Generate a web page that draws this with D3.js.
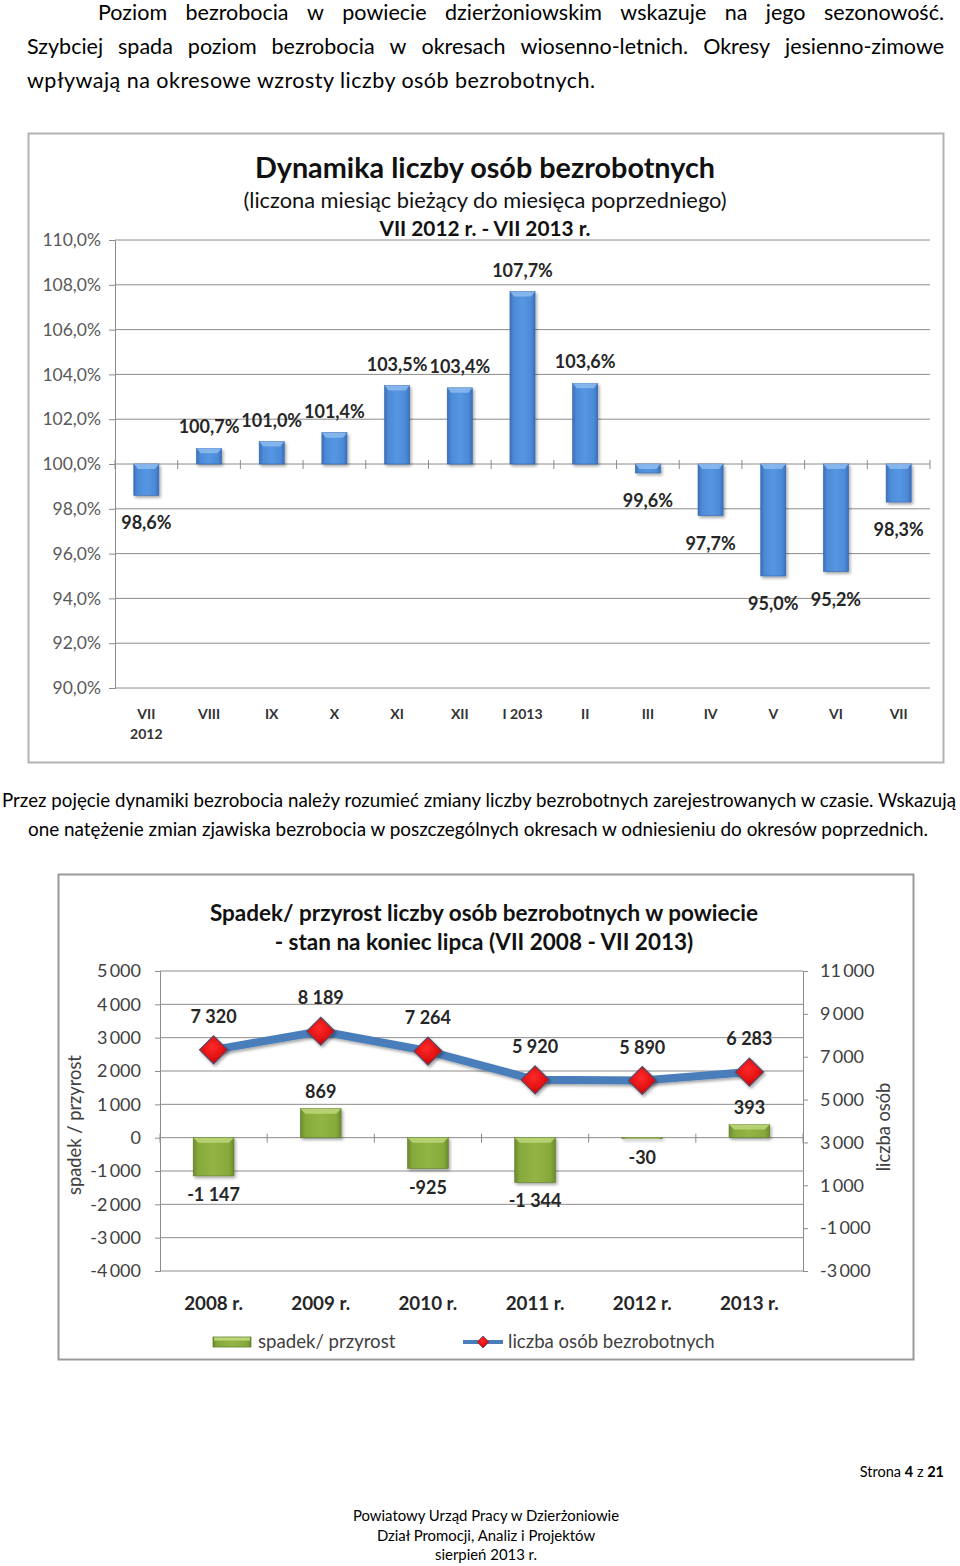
<!DOCTYPE html>
<html><head><meta charset="utf-8">
<script src="https://cdn.jsdelivr.net/npm/d3@7"></script>
<style>
html,body{margin:0;padding:0;background:#fff;}
svg{display:block;font-family:Lato,"Open Sans",sans-serif;}
</style></head>
<body>
<svg id="page" width="960" height="1566"></svg>
<script>
// ---------- DATA ----------
const months = ["VII","VIII","IX","X","XI","XII","I 2013","II","III","IV","V","VI","VII"];
const dynamics = [98.6,100.7,101.0,101.4,103.5,103.4,107.7,103.6,99.6,97.7,95.0,95.2,98.3];
const dynTicks = [90,92,94,96,98,100,102,104,106,108,110];

const years = ["2008 r.","2009 r.","2010 r.","2011 r.","2012 r.","2013 r."];
const change = [-1147, 869, -925, -1344, -30, 393];
const unemployed = [7320, 8189, 7264, 5920, 5890, 6283];
const leftTicks = [-4000,-3000,-2000,-1000,0,1000,2000,3000,4000,5000];
const rightTicks = [-3000,-1000,1000,3000,5000,7000,9000,11000];

// ---------- SETUP ----------
const svg = d3.select("#page");
const defs = svg.append("defs");

function hGrad(id, stops){
  const g = defs.append("linearGradient").attr("id", id).attr("x1","0").attr("x2","1").attr("y1","0").attr("y2","0");
  stops.forEach(s => g.append("stop").attr("offset", s[0]).attr("stop-color", s[1]));
}
hGrad("blueG", [[0,"#3a6fb9"],[0.15,"#4c8ad6"],[0.5,"#5596e2"],[0.85,"#4c8ad6"],[1,"#3a6fb9"]]);
hGrad("greenG", [[0,"#6b8a2e"],[0.12,"#86a93c"],[0.5,"#93b545"],[0.88,"#86a93c"],[1,"#6b8a2e"]]);
const rg = defs.append("radialGradient").attr("id","redG").attr("cx","0.45").attr("cy","0.4").attr("r","0.7");
rg.append("stop").attr("offset",0).attr("stop-color","#ff2a2a");
rg.append("stop").attr("offset",0.6).attr("stop-color","#e01010");
rg.append("stop").attr("offset",1).attr("stop-color","#a00808");
const sh = defs.append("filter").attr("id","shadow").attr("x","-30%").attr("y","-30%").attr("width","160%").attr("height","160%");
sh.append("feDropShadow").attr("dx",1.5).attr("dy",2).attr("stdDeviation",1.5).attr("flood-color","#000").attr("flood-opacity",0.35);

const fmtPct = d => d.toFixed(1).replace(".", ",") + "%";
const fmtNum = d => { const s = d3.format(",")(Math.abs(d)).replace(/,/g, "\u2009"); return (d < 0 ? "-" : "") + s; };
const fmtLbl = d => { const s = d3.format(",")(Math.abs(d)).replace(/,/g, " "); return (d < 0 ? "-" : "") + s; };

// justified text helper
function justify(words, x0, x1, y, size){
  const g = svg.append("g").attr("font-size", size).attr("fill", "#000");
  const nodes = words.map(w => g.append("text").attr("y", y).text(w));
  const widths = nodes.map(n => n.node().getComputedTextLength());
  const total = d3.sum(widths);
  const gap = (x1 - x0 - total) / (words.length - 1);
  let x = x0;
  nodes.forEach((n, i) => { n.attr("x", x); x += widths[i] + gap; });
}

// ---------- TOP TEXT ----------
justify("Poziom bezrobocia w powiecie dzierżoniowskim wskazuje na jego sezonowość.".split(" "), 98, 944, 20, 21.5);
justify("Szybciej spada poziom bezrobocia w okresach wiosenno-letnich. Okresy jesienno-zimowe".split(" "), 27, 944, 54, 21.5);
svg.append("text").attr("x", 27).attr("y", 88).attr("font-size", 21.5)
  .attr("textLength", 568).attr("lengthAdjust","spacing")
  .text("wpływają na okresowe wzrosty liczby osób bezrobotnych.");

// ---------- CHART 1 ----------
const c1 = svg.append("g");
c1.append("rect").attr("x",28.5).attr("y",133.5).attr("width",915).attr("height",629)
  .attr("fill","#fff").attr("stroke","#b3b3b3").attr("stroke-width",2);

c1.append("text").attr("x",485).attr("y",178).attr("text-anchor","middle")
  .attr("font-size",28.8).attr("font-weight",700).attr("fill","#111").text("Dynamika liczby osób bezrobotnych");
c1.append("text").attr("x",485).attr("y",208).attr("text-anchor","middle")
  .attr("font-size",21.8).attr("fill","#111").text("(liczona miesiąc bieżący do miesięca poprzedniego)");
c1.append("text").attr("x",485).attr("y",236).attr("text-anchor","middle")
  .attr("font-size",20.8).attr("font-weight",700).attr("fill","#111").text("VII 2012 r. - VII 2013 r.");

const x1 = d3.scaleBand().domain(d3.range(months.length)).range([115,930]).paddingInner(0.6).paddingOuter(0.3);
const y1 = d3.scaleLinear().domain([90,110]).range([688,240]);

c1.append("g").selectAll("line").data(dynTicks).join("line")
  .attr("x1",115).attr("x2",930).attr("y1",d=>y1(d)).attr("y2",d=>y1(d))
  .attr("stroke","#8c8c8c").attr("stroke-width",1);

const ax1 = c1.append("g").attr("transform","translate(115,0)")
  .call(d3.axisLeft(y1).tickValues(dynTicks).tickFormat(fmtPct).tickSize(6).tickPadding(8));
ax1.select(".domain").attr("stroke","#8c8c8c");
ax1.selectAll(".tick line").attr("stroke","#8c8c8c");
ax1.selectAll("text").attr("font-size",17.5).attr("fill","#595959").attr("font-family","Lato");

// category axis at 100%
const step1 = x1.step();
c1.append("g").selectAll("line").data(d3.range(months.length + 1)).join("line")
  .attr("x1", i => 115 + i * step1).attr("x2", i => 115 + i * step1)
  .attr("y1", y1(100) - 4).attr("y2", y1(100) + 5)
  .attr("stroke","#8c8c8c");

c1.append("g").attr("filter","url(#shadow)").selectAll("rect").data(dynamics).join("rect")
  .attr("x",(d,i)=>x1(i)).attr("width",x1.bandwidth())
  .attr("y",d=>Math.min(y1(d),y1(100))).attr("height",d=>Math.abs(y1(d)-y1(100)))
  .attr("fill","url(#blueG)").attr("stroke","#3567ad").attr("stroke-width",0.6);
// top bevel highlight
c1.append("g").selectAll("path").data(dynamics).join("path")
  .attr("d",(d,i)=>{
    const xa = x1(i), w = x1.bandwidth(), yt = Math.min(y1(d), y1(100));
    const h = Math.min(5, Math.abs(y1(d)-y1(100)));
    return `M${xa},${yt}H${xa+w}L${xa+w-4},${yt+h}H${xa+4}Z`;
  }).attr("fill","#8dbbef").attr("opacity",0.85);

c1.append("g").selectAll("text").data(dynamics).join("text")
  .attr("x",(d,i)=>x1(i)+x1.bandwidth()/2)
  .attr("y",d=> d >= 100 ? y1(d) - 15 : y1(d) + 34)
  .attr("text-anchor","middle").attr("font-size",18).attr("font-weight",700).attr("fill","#262626")
  .text(fmtPct);

c1.append("g").selectAll("text").data(months).join("text")
  .attr("x",(d,i)=>x1(i)+x1.bandwidth()/2).attr("y",719)
  .attr("text-anchor","middle").attr("font-size",14).attr("font-weight",700).attr("fill","#333")
  .text(d=>d);
c1.append("text").attr("x",x1(0)+x1.bandwidth()/2).attr("y",739).attr("text-anchor","middle")
  .attr("font-size",14).attr("font-weight",700).attr("fill","#333").text("2012");

// ---------- MIDDLE TEXT ----------
svg.append("text").attr("x",479).attr("y",807).attr("text-anchor","middle").attr("font-size",18.7)
  .attr("textLength",954).attr("lengthAdjust","spacing")
  .text("Przez pojęcie dynamiki bezrobocia należy rozumieć zmiany liczby bezrobotnych zarejestrowanych w czasie. Wskazują");
svg.append("text").attr("x",478).attr("y",836).attr("text-anchor","middle").attr("font-size",18.9)
  .attr("textLength",900).attr("lengthAdjust","spacing")
  .text("one natężenie zmian zjawiska bezrobocia w poszczególnych okresach w odniesieniu do okresów poprzednich.");

// ---------- CHART 2 ----------
const c2 = svg.append("g");
c2.append("rect").attr("x",58.5).attr("y",874.5).attr("width",855).attr("height",485)
  .attr("fill","#fff").attr("stroke","#9a9a9a").attr("stroke-width",2);

c2.append("text").attr("x",484).attr("y",921).attr("text-anchor","middle")
  .attr("font-size",22.5).attr("font-weight",700).attr("fill","#111").text("Spadek/ przyrost liczby osób bezrobotnych w powiecie");
c2.append("text").attr("x",484).attr("y",950).attr("text-anchor","middle")
  .attr("font-size",22.5).attr("font-weight",700).attr("fill","#111").text("- stan na koniec lipca (VII 2008 - VII 2013)");

const x2 = d3.scaleBand().domain(d3.range(years.length)).range([160,803]).paddingInner(0.62).paddingOuter(0.31);
const yL = d3.scaleLinear().domain([-4000,5000]).range([1271,971]);
const yR = d3.scaleLinear().domain([-3000,11000]).range([1271,971]);

c2.append("g").selectAll("line").data(leftTicks).join("line")
  .attr("x1",160).attr("x2",803).attr("y1",d=>yL(d)).attr("y2",d=>yL(d))
  .attr("stroke","#8c8c8c");

const axL = c2.append("g").attr("transform","translate(160,0)")
  .call(d3.axisLeft(yL).tickValues(leftTicks).tickFormat(fmtNum).tickSize(5).tickPadding(14));
axL.select(".domain").attr("stroke","#8c8c8c");
axL.selectAll(".tick line").attr("stroke","#8c8c8c");
axL.selectAll("text").attr("font-size",18).attr("fill","#404040").attr("font-family","Lato");

const axR = c2.append("g").attr("transform","translate(803,0)")
  .call(d3.axisRight(yR).tickValues(rightTicks).tickFormat(fmtNum).tickSize(5).tickPadding(12));
axR.select(".domain").attr("stroke","#8c8c8c");
axR.selectAll(".tick line").attr("stroke","#8c8c8c");
axR.selectAll("text").attr("font-size",18).attr("fill","#404040").attr("font-family","Lato");

c2.append("text").attr("transform","translate(81,1125) rotate(-90)").attr("text-anchor","middle")
  .attr("font-size",18.3).attr("fill","#404040").text("spadek / przyrost");
c2.append("text").attr("transform","translate(890,1127) rotate(-90)").attr("text-anchor","middle")
  .attr("font-size",18.3).attr("fill","#404040").text("liczba osób");

const step2 = x2.step();
c2.append("g").selectAll("line").data(d3.range(years.length + 1)).join("line")
  .attr("x1", i => 160 + i * step2).attr("x2", i => 160 + i * step2)
  .attr("y1", yL(0) - 4).attr("y2", yL(0) + 5).attr("stroke","#8c8c8c");

c2.append("g").attr("filter","url(#shadow)").selectAll("rect").data(change).join("rect")
  .attr("x",(d,i)=>x2(i)).attr("width",x2.bandwidth())
  .attr("y",d=>Math.min(yL(d),yL(0))).attr("height",d=>Math.max(1,Math.abs(yL(d)-yL(0))))
  .attr("fill","url(#greenG)").attr("stroke","#5f7d28").attr("stroke-width",0.6);
c2.append("g").selectAll("path").data(change).join("path")
  .attr("d",(d,i)=>{
    const xa = x2(i), w = x2.bandwidth(), yt = Math.min(yL(d), yL(0));
    const h = Math.min(5, Math.abs(yL(d)-yL(0)));
    return `M${xa},${yt}H${xa+w}L${xa+w-5},${yt+h}H${xa+5}Z`;
  }).attr("fill","#bcd77a").attr("opacity",0.85);

c2.append("g").selectAll("text").data(change).join("text")
  .attr("x",(d,i)=>x2(i)+x2.bandwidth()/2)
  .attr("y",d=> d >= 0 ? yL(d) - 11 : yL(d) + 25)
  .attr("text-anchor","middle").attr("font-size",18).attr("font-weight",700).attr("fill","#262626")
  .text(fmtLbl);

const cx = i => x2(i) + x2.bandwidth()/2;
c2.append("path").datum(unemployed)
  .attr("d", d3.line().x((d,i)=>cx(i)).y(d=>yR(d)))
  .attr("fill","none").attr("stroke","#4a7ebb").attr("stroke-width",8).attr("stroke-linejoin","round")
  .attr("filter","url(#shadow)");

const diamond = (x,y,r) => `M${x},${y-r}L${x+r},${y}L${x},${y+r}L${x-r},${y}Z`;
c2.append("g").attr("filter","url(#shadow)").selectAll("path").data(unemployed).join("path")
  .attr("d",(d,i)=>diamond(cx(i), yR(d), 14))
  .attr("fill","url(#redG)").attr("stroke","#5a4a6a").attr("stroke-width",1.2);

c2.append("g").selectAll("text").data(unemployed).join("text")
  .attr("x",(d,i)=>cx(i)).attr("y",d=>yR(d) - 27)
  .attr("text-anchor","middle").attr("font-size",18).attr("font-weight",700).attr("fill","#262626")
  .text(fmtLbl);

c2.append("g").selectAll("text").data(years).join("text")
  .attr("x",(d,i)=>cx(i)).attr("y",1310)
  .attr("text-anchor","middle").attr("font-size",18.8).attr("font-weight",700).attr("fill","#262626")
  .text(d=>d);

// legend
const lg = c2.append("g");
lg.append("rect").attr("x",213).attr("y",1337).attr("width",38).attr("height",10)
  .attr("fill","url(#greenG)").attr("stroke","#5f7d28").attr("stroke-width",0.8);
lg.append("rect").attr("x",214).attr("y",1337.5).attr("width",36).attr("height",3).attr("fill","#bcd77a");
lg.append("text").attr("x",258).attr("y",1348).attr("font-size",18.6).attr("fill","#404040").text("spadek/ przyrost");
lg.append("line").attr("x1",463).attr("x2",503).attr("y1",1342).attr("y2",1342)
  .attr("stroke","#4a7ebb").attr("stroke-width",4);
lg.append("path").attr("d",diamond(483,1342,6)).attr("fill","url(#redG)").attr("stroke","#5a4a6a").attr("stroke-width",0.8);
lg.append("text").attr("x",508).attr("y",1348).attr("font-size",18.6).attr("fill","#404040").text("liczba osób bezrobotnych");

// ---------- FOOTER ----------
const ft = svg.append("text").attr("x",944).attr("y",1477).attr("text-anchor","end").attr("font-size",14.5).attr("fill","#000");
ft.append("tspan").text("Strona ");
ft.append("tspan").attr("font-weight",700).text("4");
ft.append("tspan").text(" z ");
ft.append("tspan").attr("font-weight",700).text("21");

["Powiatowy Urząd Pracy w Dzierżoniowie","Dział Promocji, Analiz i Projektów","sierpień 2013 r."].forEach((t,i)=>{
  svg.append("text").attr("x",486).attr("y",1521 + i*19.5).attr("text-anchor","middle")
    .attr("font-size",14.9).attr("fill","#000").text(t);
});
</script>
</body></html>
